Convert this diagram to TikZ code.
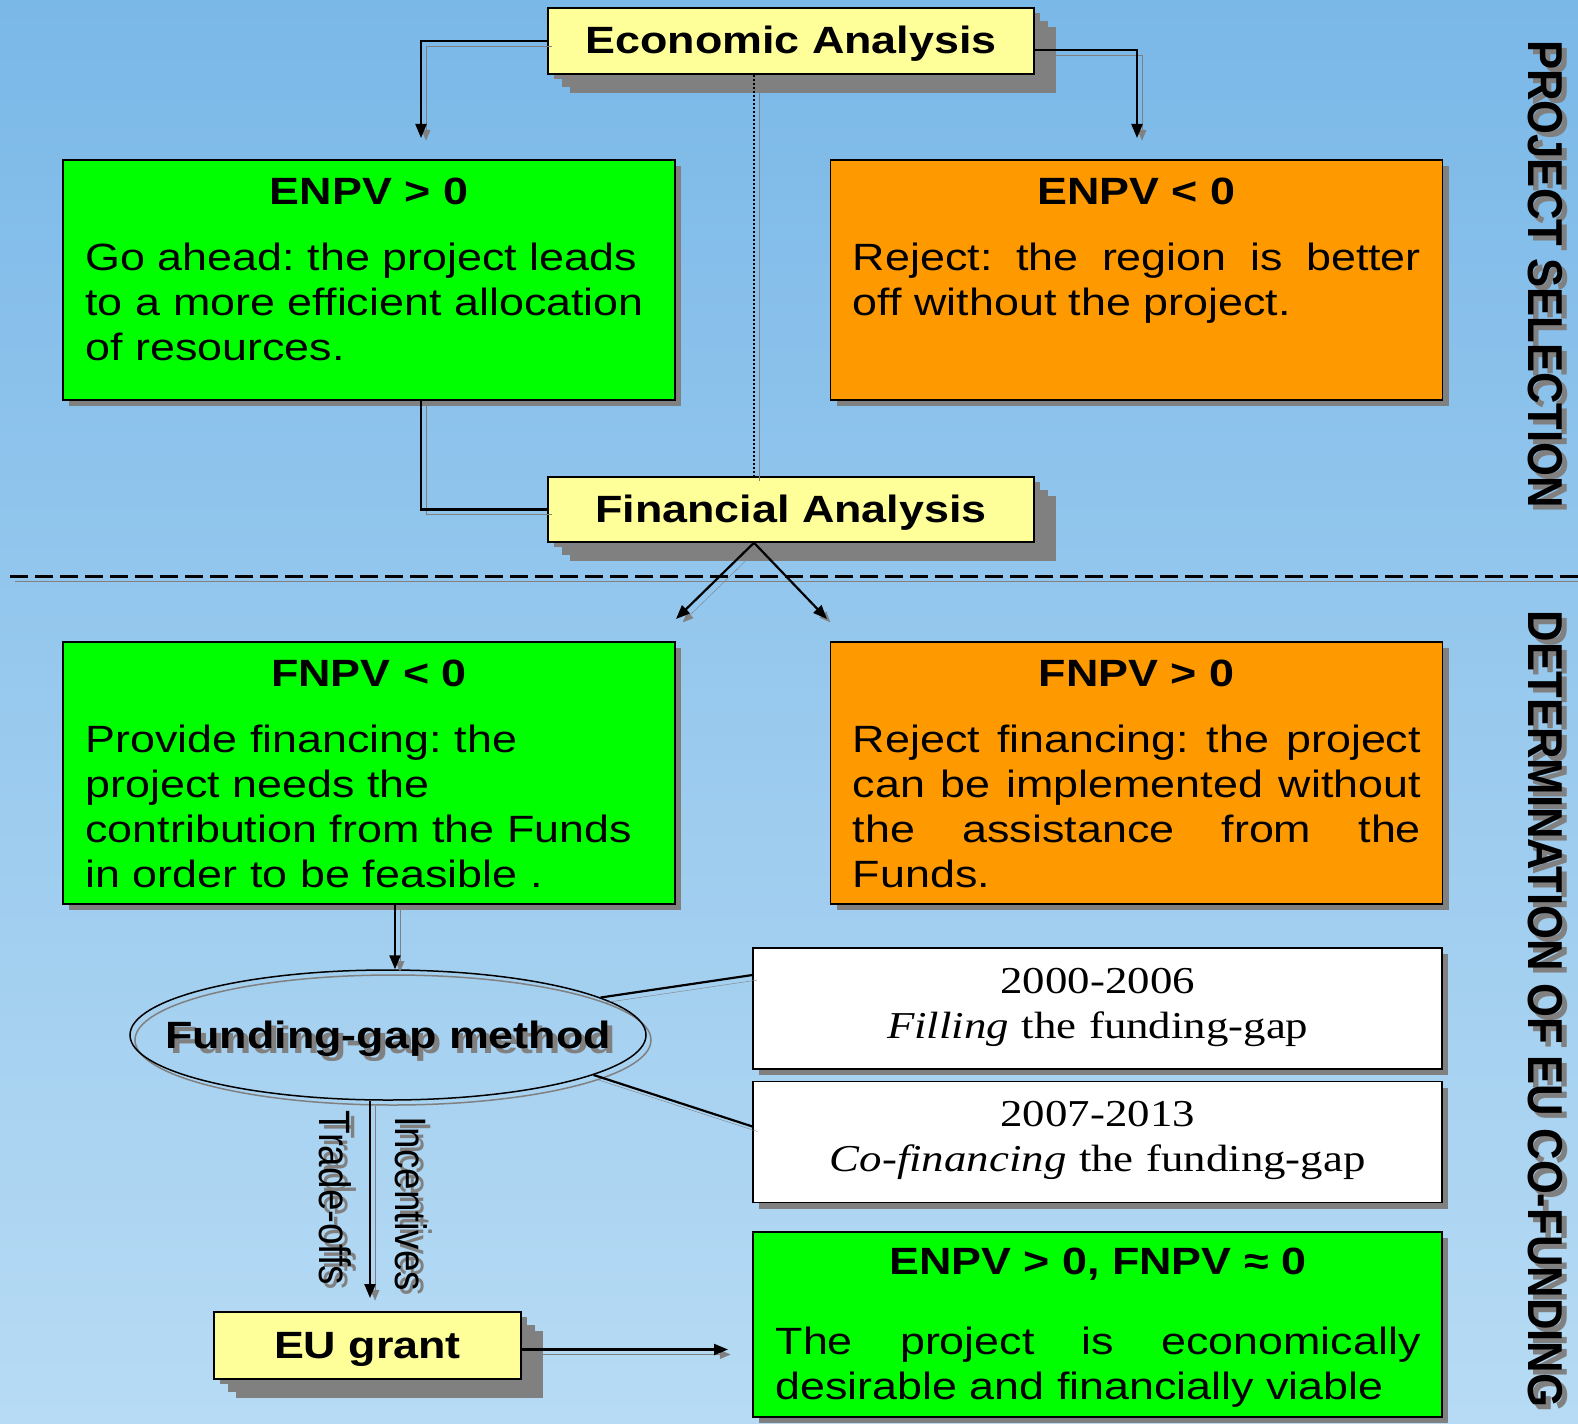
\documentclass[tikz,border=0pt]{standalone}
\usepackage{fontspec}
\setmainfont{Liberation Sans}[FakeStretch=1.18]
\newfontfamily\timesfont{Liberation Serif}[FakeStretch=1.18]
\newfontfamily\titlefont{Liberation Sans}[FakeStretch=0.89]
\newfontfamily\sidefont{Liberation Sans}[FakeStretch=0.88]
\usetikzlibrary{positioning,arrows.meta,shadows,shapes.geometric}

\definecolor{bgtop}{RGB}{122,184,232}
\definecolor{bgbottom}{RGB}{183,219,244}
\definecolor{okgreen}{RGB}{0,255,0}
\definecolor{noorange}{RGB}{255,153,0}
\definecolor{notepale}{RGB}{255,255,153}
\definecolor{shade}{RGB}{128,128,128}

\frenchspacing
\newcommand{\boxfont}{\fontsize{38}{45}\selectfont}
\newcommand{\dropped}[3]{\rlap{\hspace*{#1}\smash{\raisebox{#2}{\textcolor{shade}{#3}}}}#3}

\tikzset{
	x=1pt, y=-1pt, % one unit per pixel, y pointing down
	>={Triangle[length=14pt,width=11pt]}, % arrow heads
	link/.style={line width=2.2pt, preaction={draw=shade, transform canvas={shift={(5pt,-5pt)}}}},
	thin shadow/.style={drop shadow={shadow xshift=6pt, shadow yshift=-6pt, fill=shade, opacity=1}},
	decision/.style={draw, line width=1.5pt, minimum width=612pt, inner sep=0pt, thin shadow},
	period/.style={draw, fill=white, line width=1.5pt, minimum width=689pt, minimum height=121pt, inner sep=0pt, thin shadow},
	stage/.style={draw, fill=notepale, line width=1.5pt, inner sep=0pt, text height=26pt, text depth=0pt,
		font=\boxfont\bfseries,
		drop shadow={shadow xshift=6pt, shadow yshift=-5pt, fill=shade, opacity=1},
		drop shadow={shadow xshift=14pt, shadow yshift=-13pt, fill=shade, opacity=1},
		drop shadow={shadow xshift=22pt, shadow yshift=-19pt, fill=shade, opacity=1}},
	head/.style={anchor=base, font=\boxfont\bfseries, inner sep=0pt},
	body/.style={anchor=north west, inner sep=0pt, font=\boxfont,
		execute at begin node={\hyphenpenalty=10000 \tolerance=10000 \strut}},
	period text/.style={anchor=north, text width=660pt, align=center, inner sep=0pt, font=\timesfont\boxfont,
		execute at begin node={\strut}},
	side/.style={rotate=-90, inner sep=0pt},
}

\begin{document}
\begin{tikzpicture}
	\shade[top color=bgtop, bottom color=bgbottom] (0,0) rectangle (1578,1423);
	\useasboundingbox (0,0) rectangle (1578,1423);

	% fixed points for the connectors
	\coordinate (eal) at (421,138);
	\coordinate (ear) at (1137,138);
	\coordinate (split) at (754,0);
	\coordinate (fl) at (676,619);
	\coordinate (fr) at (827,619);
	\coordinate (sepl) at (10,576);
	\coordinate (sepr) at (1578,576);
	\coordinate (gx) at (395,0);
	\coordinate (ga) at (370,1298);
	\coordinate (gr) at (728,1349.5);

	% separator
	\draw[link, line width=3pt, dash pattern=on 18pt off 7pt] (sepl) -- (sepr);

	% analysis stages
	\node[stage, minimum width=486pt, minimum height=66pt] (econ) at (791,41) {Economic Analysis};
	\node[stage, minimum width=486pt, minimum height=65pt] (fin) at (791,509.5) {Financial Analysis};

	% economic outcomes
	\node[decision, fill=okgreen, minimum height=240pt] (enpvpos) at (369,280) {};
	\node[decision, fill=noorange, minimum height=240pt, right=154pt of enpvpos] (enpvneg) {};
	\node[head] (enpvposh) at ([yshift=-45pt]enpvpos.north) {ENPV > 0};
	\node[head] (enpvnegh) at ([yshift=-45pt]enpvneg.north) {ENPV < 0};
	\node[body, text width=568pt, align=left] (enpvposb) at ([xshift=23pt,yshift=-80pt]enpvpos.north west)
		{Go ahead: the project leads\\to a more efficient allocation\\of resources.};
	\node[body, text width=568pt, align=justify] (enpvnegb) at ([xshift=23pt,yshift=-80pt]enpvneg.north west)
		{Reject: the region is better\linebreak off without the project.};

	% financial outcomes
	\node[decision, fill=okgreen, minimum height=262pt] (fnpvneg) at (369,773) {};
	\node[decision, fill=noorange, minimum height=262pt, right=154pt of fnpvneg] (fnpvpos) {};
	\node[head] (fnpvnegh) at ([yshift=-45pt]fnpvneg.north) {FNPV < 0};
	\node[head] (fnpvposh) at ([yshift=-45pt]fnpvpos.north) {FNPV > 0};
	\node[body, text width=568pt, align=left] (fnpvnegb) at ([xshift=23pt,yshift=-80pt]fnpvneg.north west)
		{Provide financing: the\\project needs the\\contribution from the Funds\\in order to be feasible .};
	\node[body, text width=568pt, align=justify] (fnpvposb) at ([xshift=23pt,yshift=-80pt]fnpvpos.north west)
		{Reject financing: the project\linebreak can be implemented without\linebreak the assistance from the\linebreak Funds.};

	% funding gap
	\node[ellipse, draw, line width=1.5pt, minimum width=516pt, minimum height=130pt, inner sep=0pt,
		text height=26pt, text depth=0pt,
		preaction={draw=shade, line width=1.5pt, transform canvas={shift={(5pt,-5pt)}}},
		font=\boxfont\bfseries] (gapm) at (388,1035) {\makebox[0pt]{\dropped{5pt}{-5pt}{Funding-gap method}}};
	\node[period] (early) at (1097.7,1008.5) {};
	\node[period, below=11pt of early] (late) {};
	\node[period text] (earlyt) at ([yshift=-14.5pt]early.north) {2000-2006\\\textit{Filling} the funding-gap};
	\node[period text] (latet) at ([yshift=-14.5pt]late.north) {2007-2013\\\textit{Co-financing} the funding-gap};

	% grant and result
	\node[stage, minimum width=307pt, minimum height=67pt] (grant) at (367.5,1345.5) {EU grant};
	\node[decision, fill=okgreen, minimum width=689pt, minimum height=185pt] (result) at (1097.7,1324.5) {};
	\node[head] (resulth) at ([yshift=-43pt]result.north) {ENPV > 0, FNPV ≈ 0};
	\node[body, text width=645pt, align=justify] (resultb) at ([xshift=23pt,yshift=-91.5pt]result.north west)
		{The project is economically\linebreak desirable and financially viable};

	% connectors
	\draw[link, ->] (econ.west) -| (eal);
	\draw[link, ->] ([yshift=-9pt]econ.east) -| (ear);
	\draw[link, dash pattern=on 2pt off 2pt] (econ.south -| split) -- (fin.north -| split);
	\draw[link] (enpvpos.south -| eal) |- (fin.west);
	\draw[link, ->] (fin.south -| split) -- (fl);
	\draw[link, ->] (fin.south -| split) -- (fr);
	\draw[link, ->] (fnpvneg.south -| gx) -- (gapm.north -| gx);
	\draw[link] (gapm.10) -- ([yshift=33.5pt]early.west);
	\draw[link] (gapm.-11) -- ([yshift=15.5pt]late.west);
	\draw[link, ->] (gapm.south -| ga) -- (ga);
	\draw[link, ->] ([yshift=-4pt]grant.east) -- (gr);

	% labels on the grant arrow
	\node[side, font=\sidefont\fontsize{44}{46}\selectfont] (tradeoffs) at (335,1198) {\dropped{5pt}{5pt}{Trade-offs}};
	\node[side, font=\sidefont\fontsize{44}{46}\selectfont] (incentives) at (411,1204) {\dropped{5pt}{5pt}{Incentives}};

	% section titles
	\node[side, font=\titlefont\bfseries\fontsize{49}{50}\selectfont] (psel) at (1545,274) {\dropped{5pt}{5pt}{PROJECT SELECTION}};
	\node[side, font=\titlefont\bfseries\fontsize{49}{50}\selectfont] (cofund) at (1545,1009) {\dropped{5pt}{5pt}{DETERMINATION OF EU CO-FUNDING}};
\end{tikzpicture}
\end{document}
